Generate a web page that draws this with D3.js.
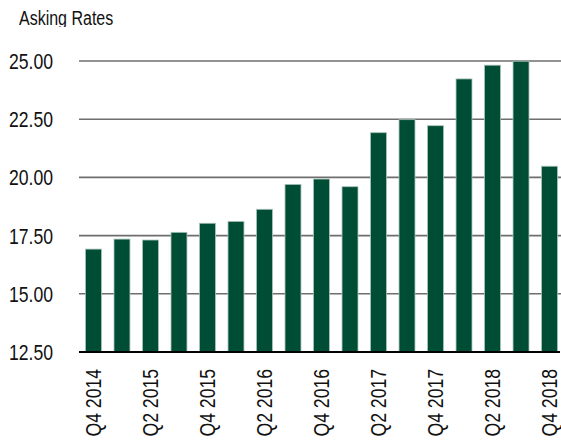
<!DOCTYPE html>
<html>
<head>
<meta charset="utf-8">
<script src="https://cdn.jsdelivr.net/npm/d3@7"></script>
<style>
  body { margin: 0; background: #fff; }
  svg text { font-family: "Liberation Sans", Arial, sans-serif; fill: #111; }
</style>
</head>
<body>
<svg width="561" height="442"></svg>
<script>
// quarters and asking rates
var quarters = ["Q4 2014","Q1 2015","Q2 2015","Q3 2015","Q4 2015","Q1 2016","Q2 2016","Q3 2016",
                "Q4 2016","Q1 2017","Q2 2017","Q3 2017","Q4 2017","Q1 2018","Q2 2018","Q3 2018","Q4 2018"];
var rates = [16.92, 17.35, 17.31, 17.64, 18.03, 18.11, 18.63, 19.70,
             19.93, 19.60, 21.92, 22.48, 22.22, 24.23, 24.82, 24.99, 20.48];
var yTicks = [12.5, 15, 17.5, 20, 22.5, 25];
var title = "Asking Rates";

var svg = d3.select("svg");
var squeeze = 0.8; // the original uses a condensed face

var x = d3.scaleBand()
    .domain(quarters)
    .range([79, 564])
    .paddingInner(0.44)
    .paddingOuter(0.228);

var y = d3.scaleLinear()
    .domain([12.5, 25])
    .range([352, 61]);

// gridlines
svg.append("g")
  .selectAll("line")
  .data(yTicks.filter(function(d){ return d > 12.5; }))
  .enter().append("line")
    .attr("x1", 79).attr("x2", 561)
    .attr("y1", function(d){ return y(d); })
    .attr("y2", function(d){ return y(d); })
    .attr("stroke", "#6e6e6e")
    .attr("stroke-width", 1.6);

// y labels
svg.append("g")
  .selectAll("text")
  .data(yTicks)
  .enter().append("text")
    .attr("transform", function(d){ return "translate(53," + y(d) + ") scale(" + squeeze + ",1)"; })
    .attr("dy", "0.36em")
    .attr("text-anchor", "end")
    .style("font-size", "22px")
    .text(function(d){ return d3.format(".2f")(d); });

// bars
svg.append("g")
  .selectAll("rect")
  .data(rates)
  .enter().append("rect")
    .attr("x", function(d, i){ return x(quarters[i]); })
    .attr("width", x.bandwidth())
    .attr("y", function(d){ return y(d); })
    .attr("height", function(d){ return y(12.5) - y(d); })
    .attr("fill", "#004d35")
    .attr("stroke", "#a9c2b8")
    .attr("stroke-width", 0.8);

// baseline
svg.append("line")
  .attr("x1", 79).attr("x2", 560)
  .attr("y1", y(12.5)).attr("y2", y(12.5))
  .attr("stroke", "#000")
  .attr("stroke-width", 2.2);

// x labels, every other quarter
svg.append("g")
  .selectAll("text")
  .data(quarters.filter(function(d, i){ return i % 2 === 0; }))
  .enter().append("text")
    .attr("transform", function(d){
      return "translate(" + (x(d) + x.bandwidth() / 2) + ",369) rotate(-90) scale(" + squeeze + ",1)";
    })
    .attr("dy", "0.36em")
    .attr("text-anchor", "end")
    .style("font-size", "22px")
    .text(function(d){ return d; });

// title, descender clipped by the plot top as in the original
svg.append("clipPath").attr("id", "tclip")
  .append("rect").attr("x", 0).attr("y", 0).attr("width", 200).attr("height", 27);
svg.append("g")
  .attr("clip-path", "url(#tclip)")
  .append("text")
  .attr("transform", "translate(19,25) scale(" + squeeze + ",1)")
  .style("font-size", "20px")
  .text(title);
</script>
</body>
</html>
